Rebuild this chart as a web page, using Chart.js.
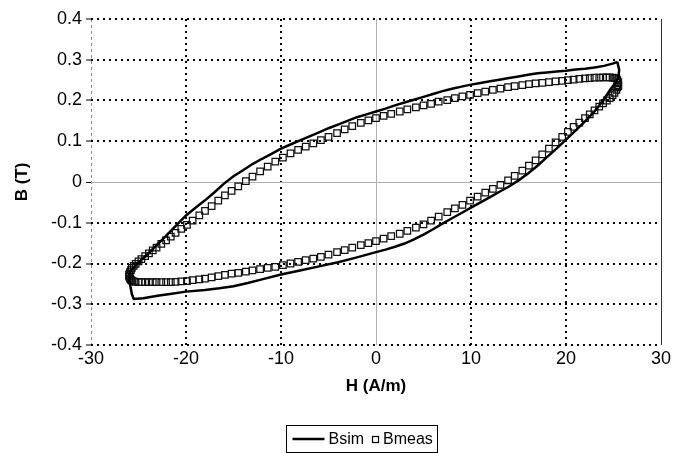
<!DOCTYPE html>
<html><head><meta charset="utf-8">
<script src="https://cdn.jsdelivr.net/npm/chart.js@4"></script>
<style>html,body{margin:0;padding:0;background:#fff;}#wrap{width:679px;height:453px;position:relative;}</style>
</head><body><div id="wrap"><canvas id="c" width="679" height="453"></canvas></div>
<script>
// ---- data ----
const SERIES_NAMES = ['Bsim', 'Bmeas'];
const X_TITLE = 'H (A/m)';
const Y_TITLE = 'B (T)';
const X_TICKS = [-30, -20, -10, 0, 10, 20, 30];
const Y_TICKS = [-0.4, -0.3, -0.2, -0.1, 0, 0.1, 0.2, 0.3, 0.4];
const Y_TICK_LABELS = ['-0.4', '-0.3', '-0.2', '-0.1', '0', '0.1', '0.2', '0.3', '0.4'];

// Bsim: simulated loop (solid line), traced once around the loop
const H_SIM = [25.4, 25.0, 24.0, 23.0, 22.0, 21.0, 20.0, 19.0, 18.0, 17.0, 16.0, 15.0, 14.0, 13.0, 12.0, 11.0, 10.0, 9.0, 8.0, 7.0, 6.0, 5.0, 4.0, 3.0, 2.0, 1.0, 0.0, -1.0, -2.0, -3.0, -4.0, -5.0, -6.0, -7.0, -8.0, -9.0, -10.0, -11.0, -12.0, -13.0, -14.0, -15.0, -16.0, -17.0, -18.0, -19.0, -20.0, -21.0, -22.0, -23.0, -24.0, -25.0, -25.6, -26.0,
  -25.9, -25.7, -25.5, -24.5, -23.0, -21.5, -20.0, -18.0, -16.5, -15.0, -13.5, -12.0, -10.0, -8.0, -6.0, -4.0, -2.0, 0.0, 1.0, 2.0, 3.0, 4.0, 5.0, 6.0, 7.0, 8.0, 9.0, 10.0, 11.0, 12.0, 13.0, 14.0, 15.0, 16.0, 17.0, 18.0, 19.0, 20.0, 21.0, 22.0, 23.0, 24.0, 24.7, 25.2, 25.5, 25.6, 25.4];
const B_SIM = [0.295, 0.291, 0.285, 0.281, 0.278, 0.276, 0.273, 0.271, 0.269, 0.267, 0.263, 0.259, 0.255, 0.251, 0.247, 0.243, 0.239, 0.234, 0.229, 0.223, 0.216, 0.209, 0.202, 0.195, 0.188, 0.180, 0.173, 0.166, 0.159, 0.150, 0.141, 0.132, 0.122, 0.112, 0.102, 0.092, 0.082, 0.069, 0.057, 0.044, 0.029, 0.014, -0.004, -0.025, -0.045, -0.063, -0.082, -0.106, -0.130, -0.153, -0.176, -0.197, -0.212, -0.225,
  -0.250, -0.275, -0.287, -0.285, -0.279, -0.274, -0.269, -0.265, -0.261, -0.256, -0.248, -0.239, -0.227, -0.217, -0.207, -0.197, -0.185, -0.172, -0.166, -0.159, -0.151, -0.141, -0.129, -0.116, -0.102, -0.089, -0.076, -0.063, -0.050, -0.037, -0.024, -0.011, 0.004, 0.021, 0.040, 0.061, 0.082, 0.104, 0.126, 0.149, 0.173, 0.203, 0.228, 0.243, 0.255, 0.275, 0.295];

// Bmeas: measured loop (square markers), descending branch
const H_MEAS_DOWN = [25.5, 25.5, 25.4, 25.3, 25.1, 24.9, 24.6, 24.3, 23.9, 23.5, 23.0, 22.5, 22.0, 21.4, 20.8, 20.2, 19.6, 18.9, 18.2, 17.5, 16.8, 16.1, 15.4, 14.6, 13.9, 13.1, 12.3, 11.5, 10.7, 9.9, 9.1, 8.3, 7.5, 6.6, 5.8, 5.0, 4.2, 3.3, 2.5, 1.6, 0.8, 0, -0.8, -1.6, -2.5, -3.3, -4.1, -5.0, -5.8, -6.6, -7.4, -8.2, -9.0, -9.8, -10.6, -11.4, -12.2, -13.0, -13.7, -14.5, -15.2, -15.9, -16.6, -17.3, -18.0, -18.6, -19.3, -19.9, -20.5, -21.1, -21.6, -22.1, -22.6, -23.1, -23.5, -23.9, -24.3, -24.7, -25.0, -25.3, -25.5, -25.7, -25.8, -25.9, -26.0];
const B_MEAS_DOWN = [0.235, 0.245, 0.250, 0.254, 0.255, 0.256, 0.257, 0.257, 0.257, 0.256, 0.256, 0.255, 0.254, 0.253, 0.251, 0.250, 0.248, 0.247, 0.245, 0.243, 0.242, 0.240, 0.238, 0.235, 0.233, 0.229, 0.226, 0.222, 0.218, 0.214, 0.210, 0.206, 0.201, 0.197, 0.192, 0.188, 0.183, 0.178, 0.173, 0.167, 0.162, 0.157, 0.151, 0.145, 0.137, 0.129, 0.120, 0.111, 0.103, 0.095, 0.087, 0.079, 0.070, 0.060, 0.050, 0.038, 0.026, 0.013, 0.002, -0.011, -0.022, -0.033, -0.046, -0.059, -0.071, -0.082, -0.095, -0.105, -0.115, -0.125, -0.134, -0.143, -0.152, -0.161, -0.168, -0.175, -0.182, -0.189, -0.195, -0.201, -0.206, -0.211, -0.216, -0.221, -0.227];
// ascending branch
const H_MEAS_UP = [-26.0, -25.9, -25.8, -25.7, -25.5, -25.3, -25.0, -24.7, -24.3, -23.9, -23.5, -23.1, -22.6, -22.1, -21.6, -21.1, -20.5, -19.9, -19.3, -18.6, -18.0, -17.3, -16.6, -15.9, -15.2, -14.5, -13.7, -13.0, -12.2, -11.4, -10.6, -9.8, -9.0, -8.2, -7.4, -6.6, -5.8, -5.0, -4.1, -3.3, -2.5, -1.6, -0.8, 0, 0.8, 1.6, 2.5, 3.3, 4.2, 5.0, 5.8, 6.6, 7.5, 8.3, 9.1, 9.9, 10.7, 11.5, 12.3, 13.1, 13.9, 14.6, 15.4, 16.1, 16.8, 17.5, 18.2, 18.9, 19.6, 20.2, 20.8, 21.4, 22.0, 22.5, 23.0, 23.5, 23.9, 24.3, 24.6, 24.9, 25.1, 25.3, 25.4, 25.5];
const B_MEAS_UP = [-0.232, -0.237, -0.240, -0.242, -0.244, -0.245, -0.246, -0.246, -0.246, -0.246, -0.246, -0.246, -0.246, -0.246, -0.246, -0.245, -0.244, -0.243, -0.241, -0.239, -0.237, -0.234, -0.231, -0.228, -0.225, -0.223, -0.220, -0.217, -0.214, -0.211, -0.208, -0.204, -0.200, -0.196, -0.192, -0.188, -0.184, -0.178, -0.172, -0.167, -0.161, -0.155, -0.150, -0.145, -0.139, -0.133, -0.127, -0.120, -0.112, -0.104, -0.095, -0.085, -0.074, -0.065, -0.056, -0.046, -0.036, -0.026, -0.017, -0.007, 0.004, 0.015, 0.028, 0.040, 0.053, 0.068, 0.082, 0.097, 0.111, 0.123, 0.135, 0.146, 0.157, 0.166, 0.176, 0.185, 0.193, 0.200, 0.206, 0.213, 0.219, 0.226, 0.232, 0.238];

// ---- build chart ----
const FONT = '"Liberation Sans", Arial, Helvetica, sans-serif';
const toPts = (xs, ys) => xs.map((x, i) => ({x: x, y: ys[i]}));
const simPts = toPts(H_SIM, B_SIM);
const measPts = toPts(H_MEAS_DOWN, B_MEAS_DOWN).concat(toPts(H_MEAS_UP, B_MEAS_UP));

const boxLegend = {
  id: 'boxLegend',
  afterDraw(chart) {
    const ctx = chart.ctx;
    const ds = chart.data.datasets;
    ctx.save();
    ctx.font = '16px ' + FONT;
    ctx.textBaseline = 'middle';
    ctx.fillStyle = '#000';
    const lineLen = 32, padL = 6, gap1 = 4, gap2 = 8, sq = 6, gap3 = 5, padR = 5;
    const w0 = ctx.measureText(ds[0].label).width;
    const w1 = ctx.measureText(ds[1].label).width;
    const total = padL + lineLen + gap1 + w0 + gap2 + sq + gap3 + w1 + padR;
    const cx = 362, top = 425.5, h = 27;
    const left = Math.round(cx - total / 2) + 0.5;
    const cy = top + h / 2;
    ctx.strokeStyle = '#000';
    ctx.lineWidth = 1;
    ctx.strokeRect(left, top, Math.round(total), h);
    let x = left + padL;
    ctx.lineWidth = 2.5;
    ctx.beginPath(); ctx.moveTo(x, cy); ctx.lineTo(x + lineLen, cy); ctx.stroke();
    x += lineLen + gap1;
    ctx.fillText(ds[0].label, x, cy + 1);
    x += w0 + gap2;
    ctx.lineWidth = 1.2;
    ctx.strokeRect(Math.round(x) + 0.5, Math.round(cy - sq / 2) + 0.5, sq, sq);
    x += sq + gap3;
    ctx.fillText(ds[1].label, x, cy + 1);
    ctx.restore();
  }
};

const xGridStyle = v => {
  if (v === -30) return {c: '#8a8a8a', w: 1, d: [3, 3]};
  if (v === 30) return {c: '#333', w: 1, d: []};
  if (v === 0) return {c: '#b0b0b0', w: 1, d: []};
  return {c: '#000', w: 2, d: [2, 4]};
};
const yGridStyle = v => {
  if (Math.abs(v) < 1e-9) return {c: '#b0b0b0', w: 1, d: []};
  return {c: '#000', w: 2, d: [2, 4]};
};

new Chart(document.getElementById('c'), {
  type: 'scatter',
  data: {
    datasets: [
      {
        label: SERIES_NAMES[0], data: simPts, showLine: true, borderColor: '#000', borderWidth: 2.5,
        pointRadius: 0, tension: 0, fill: false, order: 0
      },
      {
        label: SERIES_NAMES[1], data: measPts, showLine: false, pointStyle: 'rect', pointRadius: 4.6,
        pointBorderWidth: 1.25, pointBorderColor: '#111', pointBackgroundColor: 'rgba(0,0,0,0)', order: 1
      }
    ]
  },
  options: {
    responsive: false, animation: false, devicePixelRatio: 1,
    layout: {padding: {top: 19, right: 18, bottom: 56, left: 0}},
    plugins: {legend: {display: false}, tooltip: {enabled: false}},
    scales: {
      x: {
        type: 'linear', min: -30, max: 30,
        afterBuildTicks: s => { s.ticks = X_TICKS.map(v => ({value: v})); },
        afterFit: s => { s.height = 52; },
        ticks: {color: '#000', font: {family: FONT, size: 18}, padding: 3, maxRotation: 0, autoSkip: false,
          callback: v => String(v)},
        grid: {drawTicks: false, color: c => xGridStyle(c.tick.value).c, lineWidth: c => xGridStyle(c.tick.value).w},
        border: {display: false, dash: c => (c.tick ? xGridStyle(c.tick.value).d : [])},
        title: {display: true, text: X_TITLE, color: '#000', font: {family: FONT, size: 17, weight: 'bold'}, padding: {top: 0, bottom: 0}}
      },
      y: {
        type: 'linear', min: -0.4, max: 0.4,
        afterBuildTicks: s => { s.ticks = Y_TICKS.map(v => ({value: v})); },
        afterFit: s => { s.width = 91; },
        ticks: {color: '#000', font: {family: FONT, size: 18}, padding: 4, autoSkip: false,
          callback: (v, i) => Y_TICK_LABELS[i]},
        grid: {drawTicks: true, tickLength: 5, tickColor: '#000', tickWidth: 1,
          color: c => yGridStyle(c.tick.value).c, lineWidth: c => yGridStyle(c.tick.value).w},
        border: {display: false, dash: c => (c.tick ? yGridStyle(c.tick.value).d : [])},
        title: {display: true, text: Y_TITLE, color: '#000', font: {family: FONT, size: 17, weight: 'bold'}, padding: {top: 12, bottom: 0}}
      }
    }
  },
  plugins: [boxLegend]
});
</script></body></html>
